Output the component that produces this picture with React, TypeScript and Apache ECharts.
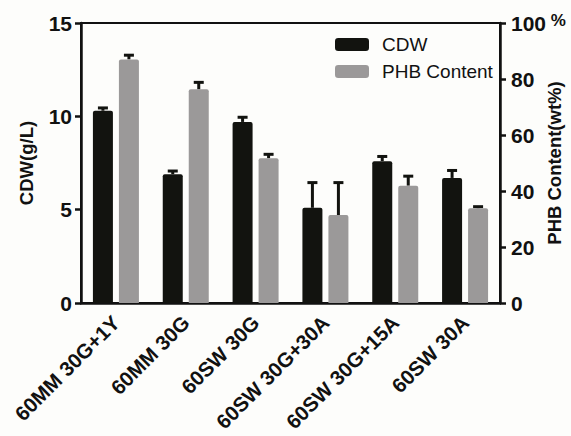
import React, { useEffect, useRef } from "react";
import * as echarts from "echarts";

const categories = [
  "60MM 30G+1Y",
  "60MM 30G",
  "60SW 30G",
  "60SW 30G+30A",
  "60SW 30G+15A",
  "60SW 30A",
];
const cdwValues = [10.3, 6.9, 9.7, 5.1, 7.6, 6.7];
const cdwErrors = [0.15, 0.17, 0.25, 1.35, 0.25, 0.4];
const phbValues = [87.0, 76.3, 51.7, 31.4, 41.9, 33.8];
const phbErrors = [1.5, 2.5, 1.4, 11.6, 3.4, 0.6];
const leftTicks = { min: 0, max: 15, interval: 5 };
const rightTicks = { min: 0, max: 100, interval: 20 };

const FONT = "'Liberation Sans', Arial, Helvetica, sans-serif";
const BLACK = "#12130f";
const GRAY = "#9b9999";
const BAR_W = 20;
const BAR_GAP = 6;

function errorSeries(name: string, values: number[], errors: number[], axisIndex: number, side: number) {
  const data = values.map((v, i) => [i, v, v + errors[i]]);
  return {
    type: "custom",
    name: name + "-err",
    yAxisIndex: axisIndex,
    silent: true,
    z: 1,
    data,
    encode: { x: 0, y: [1, 2] },
    renderItem: (params: any, api: any) => {
      const idx = api.value(0);
      const base = api.coord([idx, api.value(1)]);
      const top = api.coord([idx, api.value(2)]);
      const x = base[0] + side * (BAR_W / 2 + BAR_GAP / 2);
      const cap = 10;
      return {
        type: "group",
        children: [
          {
            type: "line",
            shape: { x1: x, y1: base[1], x2: x, y2: top[1] },
            style: { stroke: BLACK, lineWidth: 3 },
          },
          {
            type: "line",
            shape: { x1: x - cap / 2, y1: top[1], x2: x + cap / 2, y2: top[1] },
            style: { stroke: BLACK, lineWidth: 3 },
          },
        ],
      };
    },
  };
}

export default function App() {
  const ref = useRef<HTMLDivElement>(null);
  useEffect(() => {
    if (!ref.current) return;
    const chart = echarts.init(ref.current, undefined, { renderer: "svg" });
    const axisLabelStyle = {
      fontFamily: FONT,
      fontWeight: "bold" as const,
      fontSize: 21,
      color: "#111",
    };
    chart.setOption({
      animation: false,
      backgroundColor: "#fdfdfb",
      textStyle: { fontFamily: FONT },
      grid: {
        left: 81,
        right: 71,
        top: 23,
        bottom: 133,
        containLabel: false,
        outerBoundsMode: "none",
        show: true,
        borderColor: "#111",
        borderWidth: 2,
        backgroundColor: "transparent",
      },
      legend: {
        orient: "vertical",
        left: 335,
        top: 35,
        padding: 0,
        itemWidth: 34,
        itemHeight: 13,
        itemGap: 8,
        icon: "roundRect",
        data: ["CDW", "PHB Content"],
        textStyle: {
          fontFamily: FONT,
          fontSize: 19,
          color: "#111",
          padding: [0, 0, 0, 8],
        },
      },
      xAxis: {
        type: "category",
        data: categories,
        axisLine: { lineStyle: { color: "#111", width: 2.5 } },
        axisTick: { alignWithLabel: true, length: 6, lineStyle: { width: 2.5, color: "#111" } },
        axisLabel: {
          ...axisLabelStyle,
          fontSize: 20.5,
          rotate: 45,
          margin: 16,
          interval: 0,
        },
      },
      yAxis: [
        {
          type: "value",
          ...leftTicks,
          name: "CDW(g/L)",
          nameLocation: "middle",
          nameGap: 45,
          nameMoveOverlap: false,
          nameTextStyle: { fontFamily: FONT, fontWeight: "bold", fontSize: 18.5, color: "#111" },
          axisLine: { show: true, lineStyle: { color: "#111", width: 2.5 } },
          axisTick: { show: true, length: 6, lineStyle: { width: 2.5, color: "#111" } },
          axisLabel: { ...axisLabelStyle, margin: 9 },
          splitLine: { show: false },
        },
        {
          type: "value",
          ...rightTicks,
          position: "right",
          name: "PHB Content(wt%)",
          nameLocation: "middle",
          nameGap: 45,
          nameRotate: 90,
          nameMoveOverlap: false,
          nameTextStyle: { fontFamily: FONT, fontWeight: "bold", fontSize: 18.5, color: "#111" },
          axisLine: { show: true, lineStyle: { color: "#111", width: 2.5 } },
          axisTick: { show: true, length: 6, lineStyle: { width: 2.5, color: "#111" } },
          axisLabel: {
            ...axisLabelStyle,
            margin: 11,
            formatter: (v: number) => (v === 100 ? "{a|100}{p| %}" : "{a|" + v + "}"),
            rich: {
              a: { fontFamily: FONT, fontWeight: "bold", fontSize: 21, color: "#111" },
              p: { fontFamily: FONT, fontSize: 17, color: "#111", verticalAlign: "top", lineHeight: 22 },
            },
          },
          splitLine: { show: false },
        },
      ],
      series: [
        {
          type: "bar",
          name: "CDW",
          data: cdwValues,
          yAxisIndex: 0,
          barWidth: BAR_W,
          barGap: (BAR_GAP / BAR_W) * 100 + "%",
          itemStyle: { color: BLACK, borderRadius: [2, 2, 0, 0] },
          z: 2,
        },
        {
          type: "bar",
          name: "PHB Content",
          data: phbValues,
          yAxisIndex: 1,
          barWidth: BAR_W,
          itemStyle: { color: GRAY, borderRadius: [2, 2, 0, 0] },
          z: 2,
        },
        errorSeries("CDW", cdwValues, cdwErrors, 0, -1),
        errorSeries("PHB Content", phbValues, phbErrors, 1, 1),
      ],
    });
    return () => chart.dispose();
  }, []);
  return (
    <div
      ref={ref}
      style={{ position: "fixed", left: 0, top: 0, width: 571, height: 436 }}
    />
  );
}
